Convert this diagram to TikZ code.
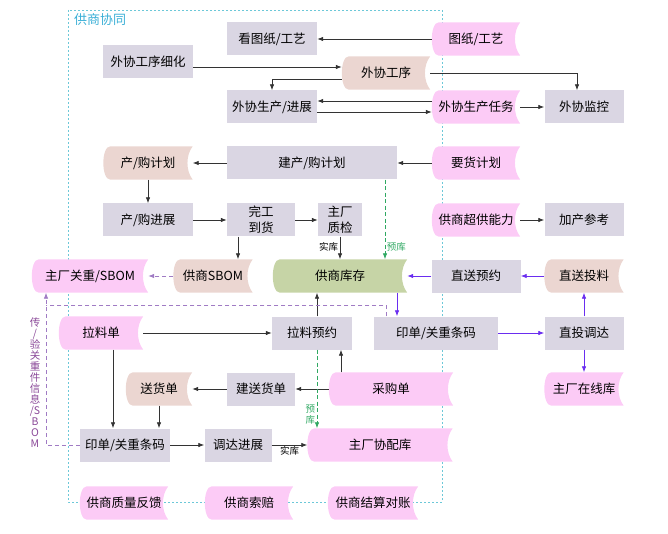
\documentclass[tikz,border=0pt]{standalone}
\usepackage{fontspec}
\setmainfont{Noto Sans CJK SC}
\usetikzlibrary{arrows.meta,backgrounds}

\definecolor{boxcol}{HTML}{DAD6E3}
\definecolor{pinkcol}{HTML}{FCCBF6}
\definecolor{beigecol}{HTML}{EBD6D1}
\definecolor{greencol}{HTML}{C6D4A6}
\definecolor{framecol}{HTML}{6CC8D8}
\definecolor{titlecol}{HTML}{3AAFD6}
\definecolor{flowviolet}{HTML}{6A2DF0}
\definecolor{sbomcol}{HTML}{A07BC4}
\definecolor{sbomtext}{HTML}{8A4898}
\definecolor{kugreen}{HTML}{2FA862}

% stored-data outline behind a node: round left side, hollow right side
\newcommand\storedfill[2]{%
  \fill[#2] ([xshift=7pt]#1.north west) -- (#1.north east)
    .. controls ([xshift=-7pt,yshift=-9pt]#1.north east) and ([xshift=-7pt,yshift=9pt]#1.south east) .. (#1.south east)
    -- ([xshift=7pt]#1.south west)
    .. controls ([xshift=-2.3pt]#1.south west) and ([xshift=-2.3pt]#1.north west) .. ([xshift=7pt]#1.north west) -- cycle;}

\begin{document}
\begin{tikzpicture}[x=1pt,y=-1pt,
  font=\fontsize{12.5}{16}\selectfont,
  box/.style={fill=boxcol,minimum height=33pt,inner sep=0pt,align=center},
  store/.style={minimum height=33pt,inner sep=0pt},
  arr/.style={-{Latex[length=6pt,width=4.5pt]},line width=0.8pt,draw=black!80},
  varr/.style={arr,draw=flowviolet},
  sbomarr/.style={arr,draw=sbomcol,dash pattern=on 4pt off 3pt},
  kuarr/.style={arr,draw=kugreen,dash pattern=on 4pt off 2.5pt},
  tag/.style={font=\fontsize{9.5}{11}\selectfont,inner sep=1.5pt}]
\useasboundingbox (0,0) rectangle (668,534);

\node[anchor=north west,text=titlecol,font=\fontsize{13}{15}\selectfont,inner sep=0pt] (title) at (74,13) {供商协同};

% row 1-3
\node[box,minimum width=90pt] (kt) at (272,39) {看图纸/工艺};
\node[store,minimum width=88pt] (tz) at (476,39) {图纸/工艺};
\node[box,minimum width=90pt] (xh) at (148,62) {外协工序细化};
\node[store,minimum width=88pt] (xg) at (386,73) {外协工序};
\node[box,minimum width=90pt] (xj) at (272,107) {外协生产/进展};
\node[store,minimum width=88pt] (xr) at (476,107) {外协生产任务};
\node[box,minimum width=79pt] (xk) at (584,107) {外协监控};

% row 4-6
\node[store,minimum width=89pt] (cj) at (148,163) {产/购计划};
\node[box,minimum width=170pt] (jc) at (312,163) {建产/购计划};
\node[store,minimum width=88pt] (yh) at (476,163) {要货计划};
\node[box,minimum width=90pt] (cp) at (148,220) {产/购进展};
\node[box,minimum width=68pt] (wg) at (261,220) {完工\\到货};
\node[box,minimum width=44pt] (zj) at (340,220) {主厂\\质检};
\node[store,minimum width=88pt] (cg) at (476,220) {供商超供能力};
\node[box,minimum width=79pt] (jk) at (584,220) {加产参考};
\node[store,minimum width=116pt] (gz) at (90,276) {主厂关重/SBOM};
\node[store,minimum width=79pt] (gs) at (213,276) {供商SBOM};
\node[store,minimum width=134pt] (kc) at (340,276) {供商库存};
\node[box,minimum width=89pt] (zy) at (476,276) {直送预约};
\node[store,minimum width=79pt] (zt) at (584,276) {直送投料};

% row 7-10
\node[store,minimum width=84pt] (ll) at (101,333) {拉料单};
\node[box,minimum width=80pt] (ly) at (312,333) {拉料预约};
\node[box,minimum width=124pt] (yr) at (436,333) {印单/关重条码};
\node[box,minimum width=79pt] (zd) at (584,333) {直投调达};
\node[store,minimum width=66pt] (sh) at (159,389) {送货单};
\node[box,minimum width=68pt] (js) at (261,389) {建送货单};
\node[store,minimum width=124pt] (cgd) at (391,389) {采购单};
\node[store,minimum width=79pt] (zx) at (584,389) {主厂在线库};
\node[box,minimum width=90pt] (yl) at (125,445) {印单/关重条码};
\node[box,minimum width=67pt] (dj) at (238,445) {调达进展};
\node[store,minimum width=145pt] (xp) at (380,445) {主厂协配库};
\node[store,minimum width=88pt] (fk) at (124,503) {供商质量反馈};
\node[store,minimum width=88pt] (sp) at (249,503) {供商索赔};
\node[store,minimum width=90pt] (jz) at (373,503) {供商结算对账};

\node[text=sbomtext,font=\fontsize{10.5}{11}\selectfont,align=center,inner sep=0pt] (sbomnote) at (35,383) {传\\/\\验\\关\\重\\件\\信\\息\\/S\\B\\O\\M};
\coordinate (sbombend) at (46,305);

% connectors
\draw[arr] (tz.west) -- (kt.east);
\draw[arr] ([yshift=-5pt]xh.east) -- ([yshift=-5pt]xh.east -| xg.west);
\draw[arr] ([yshift=-6pt]xg.west) -| (xj.north);
\draw[arr] (xg.east) -| ([xshift=-7pt]xk.north);
\draw[arr] ([yshift=6pt]xr.west) -- ([yshift=6pt]xr.west -| xj.east);
\draw[arr] ([yshift=-5pt]xj.east) -- ([yshift=-5pt]xj.east -| xr.west);
\draw[arr] (xr.east) -- (xk.west);
\draw[arr] (yh.west) -- (jc.east);
\draw[arr] (jc.west) -- (cj.east);
\draw[arr] (cj.south) -- (cp.north);
\draw[arr] (cp.east) -- (wg.west);
\draw[arr] (wg.east) -- (zj.west);
\draw[arr] ([xshift=-23pt]wg.south) -- ([xshift=-23pt]wg.south |- gs.north);
\draw[arr] (zj.south) -- (zj.south |- kc.north) node[tag,pos=0.45,left] {实库};
\draw[kuarr] ([xshift=73pt]jc.south) -- ([xshift=73pt]jc.south |- kc.north) node[tag,pos=0.84,right,text=kugreen] {预库};
\draw[arr] (cg.east) -- (jk.west);
\draw[sbomarr] (gs.west) -- (gz.east);
\draw[varr] (zy.west) -- (kc.east);
\draw[varr] (zt.west) -- (zy.east);
\draw[varr] (zd.north) -- (zt.south);
\draw[varr] ([xshift=57pt]kc.south) -- ([xshift=57pt]kc.south |- yr.north);
\draw[arr] (ll.east) -- (ly.west);
\draw[arr] ([xshift=5pt]ly.north) -- ([xshift=5pt]ly.north |- kc.south);
\draw[varr] (yr.east) -- (zd.west);
\draw[varr] (zd.south) -- (zx.north);
\draw[sbomarr,-] ([xshift=-50pt]yr.north) |- (sbombend);
\draw[sbomarr] (yl.west) -| ([xshift=-44pt]gz.south);
\draw[arr] ([xshift=-50pt]cgd.north) -- ([xshift=-50pt]cgd.north |- ly.south);
\draw[arr] (cgd.west) -- (js.east);
\draw[arr] (js.west) -- (sh.east);
\draw[arr] ([xshift=12pt]ll.south) -- ([xshift=12pt]ll.south |- yl.north);
\draw[arr] (sh.south) -- (sh.south |- yl.north);
\draw[kuarr] ([xshift=5pt]ly.south) -- ([xshift=5pt]ly.south |- xp.north) node[tag,pos=0.82,left,text=kugreen,align=center] {预\\库};
\draw[arr] (yl.east) -- (dj.west);
\draw[arr] (dj.east) -- (xp.west) node[tag,midway,below] {实库};

\begin{scope}[on background layer]
\draw[framecol,line width=0.8pt,dash pattern=on 2pt off 2pt] (68,10) rectangle (442,502);
\storedfill{tz}{pinkcol}
\storedfill{xg}{beigecol}
\storedfill{xr}{pinkcol}
\storedfill{cj}{beigecol}
\storedfill{yh}{pinkcol}
\storedfill{cg}{pinkcol}
\storedfill{gz}{pinkcol}
\storedfill{gs}{beigecol}
\storedfill{kc}{greencol}
\storedfill{zt}{beigecol}
\storedfill{ll}{pinkcol}
\storedfill{sh}{beigecol}
\storedfill{cgd}{pinkcol}
\storedfill{zx}{pinkcol}
\storedfill{xp}{pinkcol}
\storedfill{fk}{pinkcol}
\storedfill{sp}{pinkcol}
\storedfill{jz}{pinkcol}
\end{scope}
\end{tikzpicture}
\end{document}
